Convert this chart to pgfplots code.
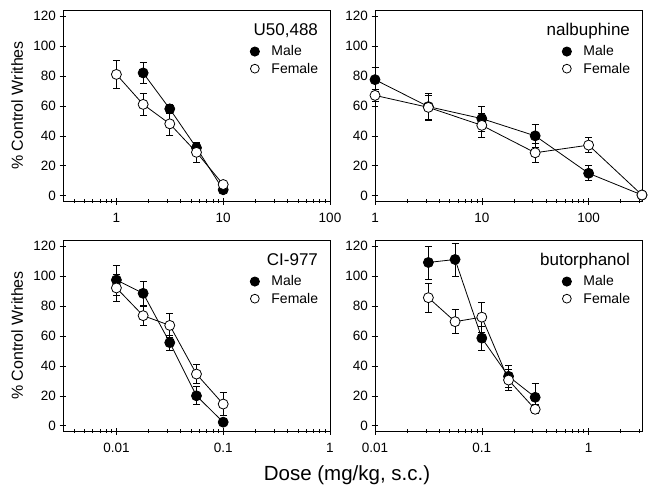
\documentclass[border=0pt]{standalone}
\usepackage{fontspec}
\setmainfont{Liberation Sans}
\usepackage{pgfplots}
\pgfplotsset{compat=1.18}
\pgfkeys{/pgf/number format/.cd, assume math mode=true}

\pgfplotsset{
  dosepanel/.style={
    scale only axis, width=267pt, height=191pt,
    ymin=-3.5, ymax=124, ytick={0,20,...,120},
    tick pos=left, tick align=center,
    major tick length=7pt, minor tick length=4pt,
    tick style={black, line width=0.6pt},
    axis line style={line width=0.8pt},
    tick label style={font=\fontsize{13.5}{15}\selectfont},
    xticklabel style={yshift=-5pt},
    clip=false,
    legend style={at={(0.975,0.835)}, anchor=north east, draw=none, fill=none,
      font=\fontsize{14}{16}\selectfont, row sep=1.5pt,
      /tikz/every odd column/.append style={column sep=10pt}},
    legend cell align=left,
  },
  writhelabel/.style={
    ylabel={\% Control Writhes},
    ylabel style={font=\fontsize{16}{19}\selectfont, at={(axis description cs:-0.172,0.5)}, anchor=center},
  },
  maleline/.style={black, line width=0.8pt, mark=*, mark size=5pt,
    mark options={fill=black, draw=black},
    error bars/y dir=both, error bars/y explicit,
    error bars/error bar style={line width=0.7pt},
    error bars/error mark options={rotate=90, mark size=3.5pt, line width=0.7pt},
    forget plot},
  femaleline/.style={black, line width=0.8pt, mark=*, mark size=5pt,
    mark options={fill=white, draw=black},
    error bars/y dir=both, error bars/y explicit,
    error bars/error bar style={line width=0.7pt},
    error bars/error mark options={rotate=90, mark size=3.5pt, line width=0.7pt},
    forget plot},
}
\newcommand{\sexlegend}{%
  \addlegendimage{only marks, mark=*, mark size=4.6pt, mark options={fill=black, draw=black, line width=0.8pt}}
  \addlegendentry{Male}
  \addlegendimage{only marks, mark=*, mark size=4.4pt, mark options={fill=white, draw=black, line width=0.8pt}}
  \addlegendentry{Female}}
\newcommand{\paneltitle}[1]{\node[anchor=base east, font=\fontsize{17}{20}\selectfont] at (rel axis cs:0.968,0.869) {#1};}

\begin{document}
\begin{tikzpicture}
\useasboundingbox (0,0) rectangle (650pt,-492pt);

% U50,488
\begin{semilogxaxis}[dosepanel, writhelabel, at={(63pt,-201pt)}, anchor=south west,
  xmin=0.3162, xmax=100, xtick={1,10,100}, xticklabels={1,10,100},
  minor xtick={0.4,0.5,0.6,0.7,0.8,0.9,2,3,4,5,6,7,8,9,20,30,40,50,60,70,80,90}]
\sexlegend
\addplot[maleline] coordinates {(1.78,82) +- (0,7) (3.16,58) +- (0,3) (5.62,32) +- (0,3) (10,4) +- (0,2)};
\addplot[femaleline] coordinates {(1,81) +- (0,9.5) (1.78,61) +- (0,7.5) (3.16,48) +- (0,7.5) (5.62,29) +- (0,6.5) (10,7.5) +- (0,2)};
\paneltitle{U50,488}
\end{semilogxaxis}

% nalbuphine
\begin{semilogxaxis}[dosepanel, at={(375pt,-201pt)}, anchor=south west,
  xmin=1, xmax=316.2, xtick={1,10,100}, xticklabels={1,10,100},
  minor xtick={2,3,4,5,6,7,8,9,20,30,40,50,60,70,80,90,200,300}]
\sexlegend
\addplot[maleline] coordinates {(1,77.5) +- (0,8) (3.16,59.5) +- (0,9) (10,51.5) +- (0,8.5) (31.6,40) +- (0,8) (100,15) +- (0,5) (316,0.5) +- (0,1)};
\addplot[femaleline] coordinates {(1,67) +- (0,4) (3.16,59) +- (0,8) (10,47) +- (0,8) (31.6,28.7) +- (0,6.5) (100,33.8) +- (0,5) (316,0.5) +- (0,1)};
\paneltitle{nalbuphine}
\end{semilogxaxis}

% CI-977
\begin{semilogxaxis}[dosepanel, writhelabel, at={(63pt,-431pt)}, anchor=south west,
  xmin=0.003162, xmax=1, xtick={0.01,0.1,1}, xticklabels={0.01,0.1,1},
  minor xtick={0.004,0.005,0.006,0.007,0.008,0.009,0.02,0.03,0.04,0.05,0.06,0.07,0.08,0.09,0.2,0.3,0.4,0.5,0.6,0.7,0.8,0.9}]
\sexlegend
\addplot[maleline] coordinates {(0.01,97.3) +- (0,10) (0.0178,88.4) +- (0,8) (0.0316,55.5) +- (0,5) (0.0562,20) +- (0,6) (0.1,2.4) +- (0,1.5)};
\addplot[femaleline] coordinates {(0.01,92) +- (0,9) (0.0178,73.5) +- (0,6.5) (0.0316,67) +- (0,8) (0.0562,34.5) +- (0,6.5) (0.1,14.5) +- (0,7.5)};
\paneltitle{CI-977}
\end{semilogxaxis}

% butorphanol
\begin{semilogxaxis}[dosepanel, at={(375pt,-431pt)}, anchor=south west,
  xmin=0.01, xmax=3.162, xtick={0.01,0.1,1}, xticklabels={0.01,0.1,1},
  minor xtick={0.02,0.03,0.04,0.05,0.06,0.07,0.08,0.09,0.2,0.3,0.4,0.5,0.6,0.7,0.8,0.9,2,3}]
\sexlegend
\addplot[maleline] coordinates {(0.0316,109) +- (0,11) (0.0562,111) +- (0,11) (0.1,58.5) +- (0,8) (0.178,33) +- (0,7.5) (0.316,19) +- (0,9)};
\addplot[femaleline] coordinates {(0.0316,85.5) +- (0,9.5) (0.0562,69.5) +- (0,8) (0.1,72.5) +- (0,10) (0.178,30.5) +- (0,7) (0.316,11) +- (0,3)};
\paneltitle{butorphanol}
\end{semilogxaxis}

\node[anchor=base, font=\fontsize{20.5}{24}\selectfont] at (347pt,-480pt) {Dose (mg/kg, s.c.)};
\end{tikzpicture}
\end{document}
